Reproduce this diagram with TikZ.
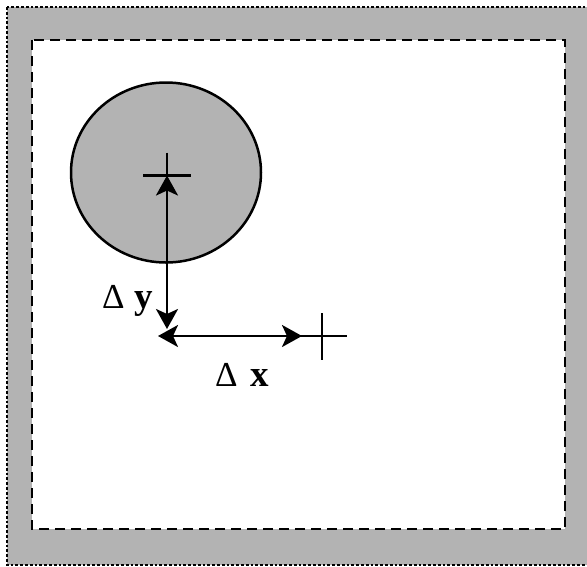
\documentclass[tikz,border=0pt]{standalone}
\usepackage{fontspec}
\setmainfont{Liberation Serif}
\usetikzlibrary{arrows.meta}
\definecolor{bandgray}{HTML}{B3B3B3}
\begin{document}
\begin{tikzpicture}[x=1pt,y=-1pt,
  outerband/.style={fill=bandgray, draw=black, line width=2.8pt, dash pattern=on 2.8pt off 2pt},
  innerfield/.style={fill=white, draw=black, line width=2.6pt, dash pattern=on 10pt off 6pt},
  blob/.style={fill=bandgray, draw=black, line width=2.5pt},
  crossline/.style={draw=black, line width=2.5pt},
  dimarrow/.style={draw=black, line width=2.5pt, {Stealth[length=20pt,width=22pt,inset=5pt]}-{Stealth[length=20pt,width=22pt,inset=5pt]}},
  lbl/.style={inner sep=0pt, anchor=base west},
  deltafont/.style={font=\fontsize{35}{37}\selectfont}
]
\useasboundingbox (0,0) rectangle (587,566);
\path[outerband] (7,7) rectangle (595,565);
\path[innerfield] (32,40) rectangle (565,529);
\path[blob] (166,172.5) ellipse [x radius=95, y radius=90];
% crosses
\coordinate (c1) at (167,175.5);
\coordinate (c2) at (322,336);
\path[crossline] ([xshift=-24pt]c1) -- ([xshift=24pt]c1);
\path[crossline] ([yshift=23pt]c1) -- (c1);
\path[crossline] ([xshift=-24pt]c2) -- ([xshift=25pt]c2);
\path[crossline] ([yshift=23pt]c2) -- ([yshift=-24pt]c2);
% dimension arrows
\coordinate (vb) at (167,329);
\coordinate (hl) at (158,336);
\coordinate (hr) at (302,336);
\path[dimarrow] (vb) -- (c1);
\path[dimarrow] (hl) -- (hr);
% labels
\node[lbl, deltafont] (dy) at (102,308.3) {Δ\hspace{10pt}{\fontsize{37}{39}\selectfont\bfseries y}};
\node[lbl, deltafont] (dx) at (215,386.7) {Δ\hspace{13pt}{\fontsize{37}{39}\selectfont\bfseries x}};
\end{tikzpicture}
\end{document}
